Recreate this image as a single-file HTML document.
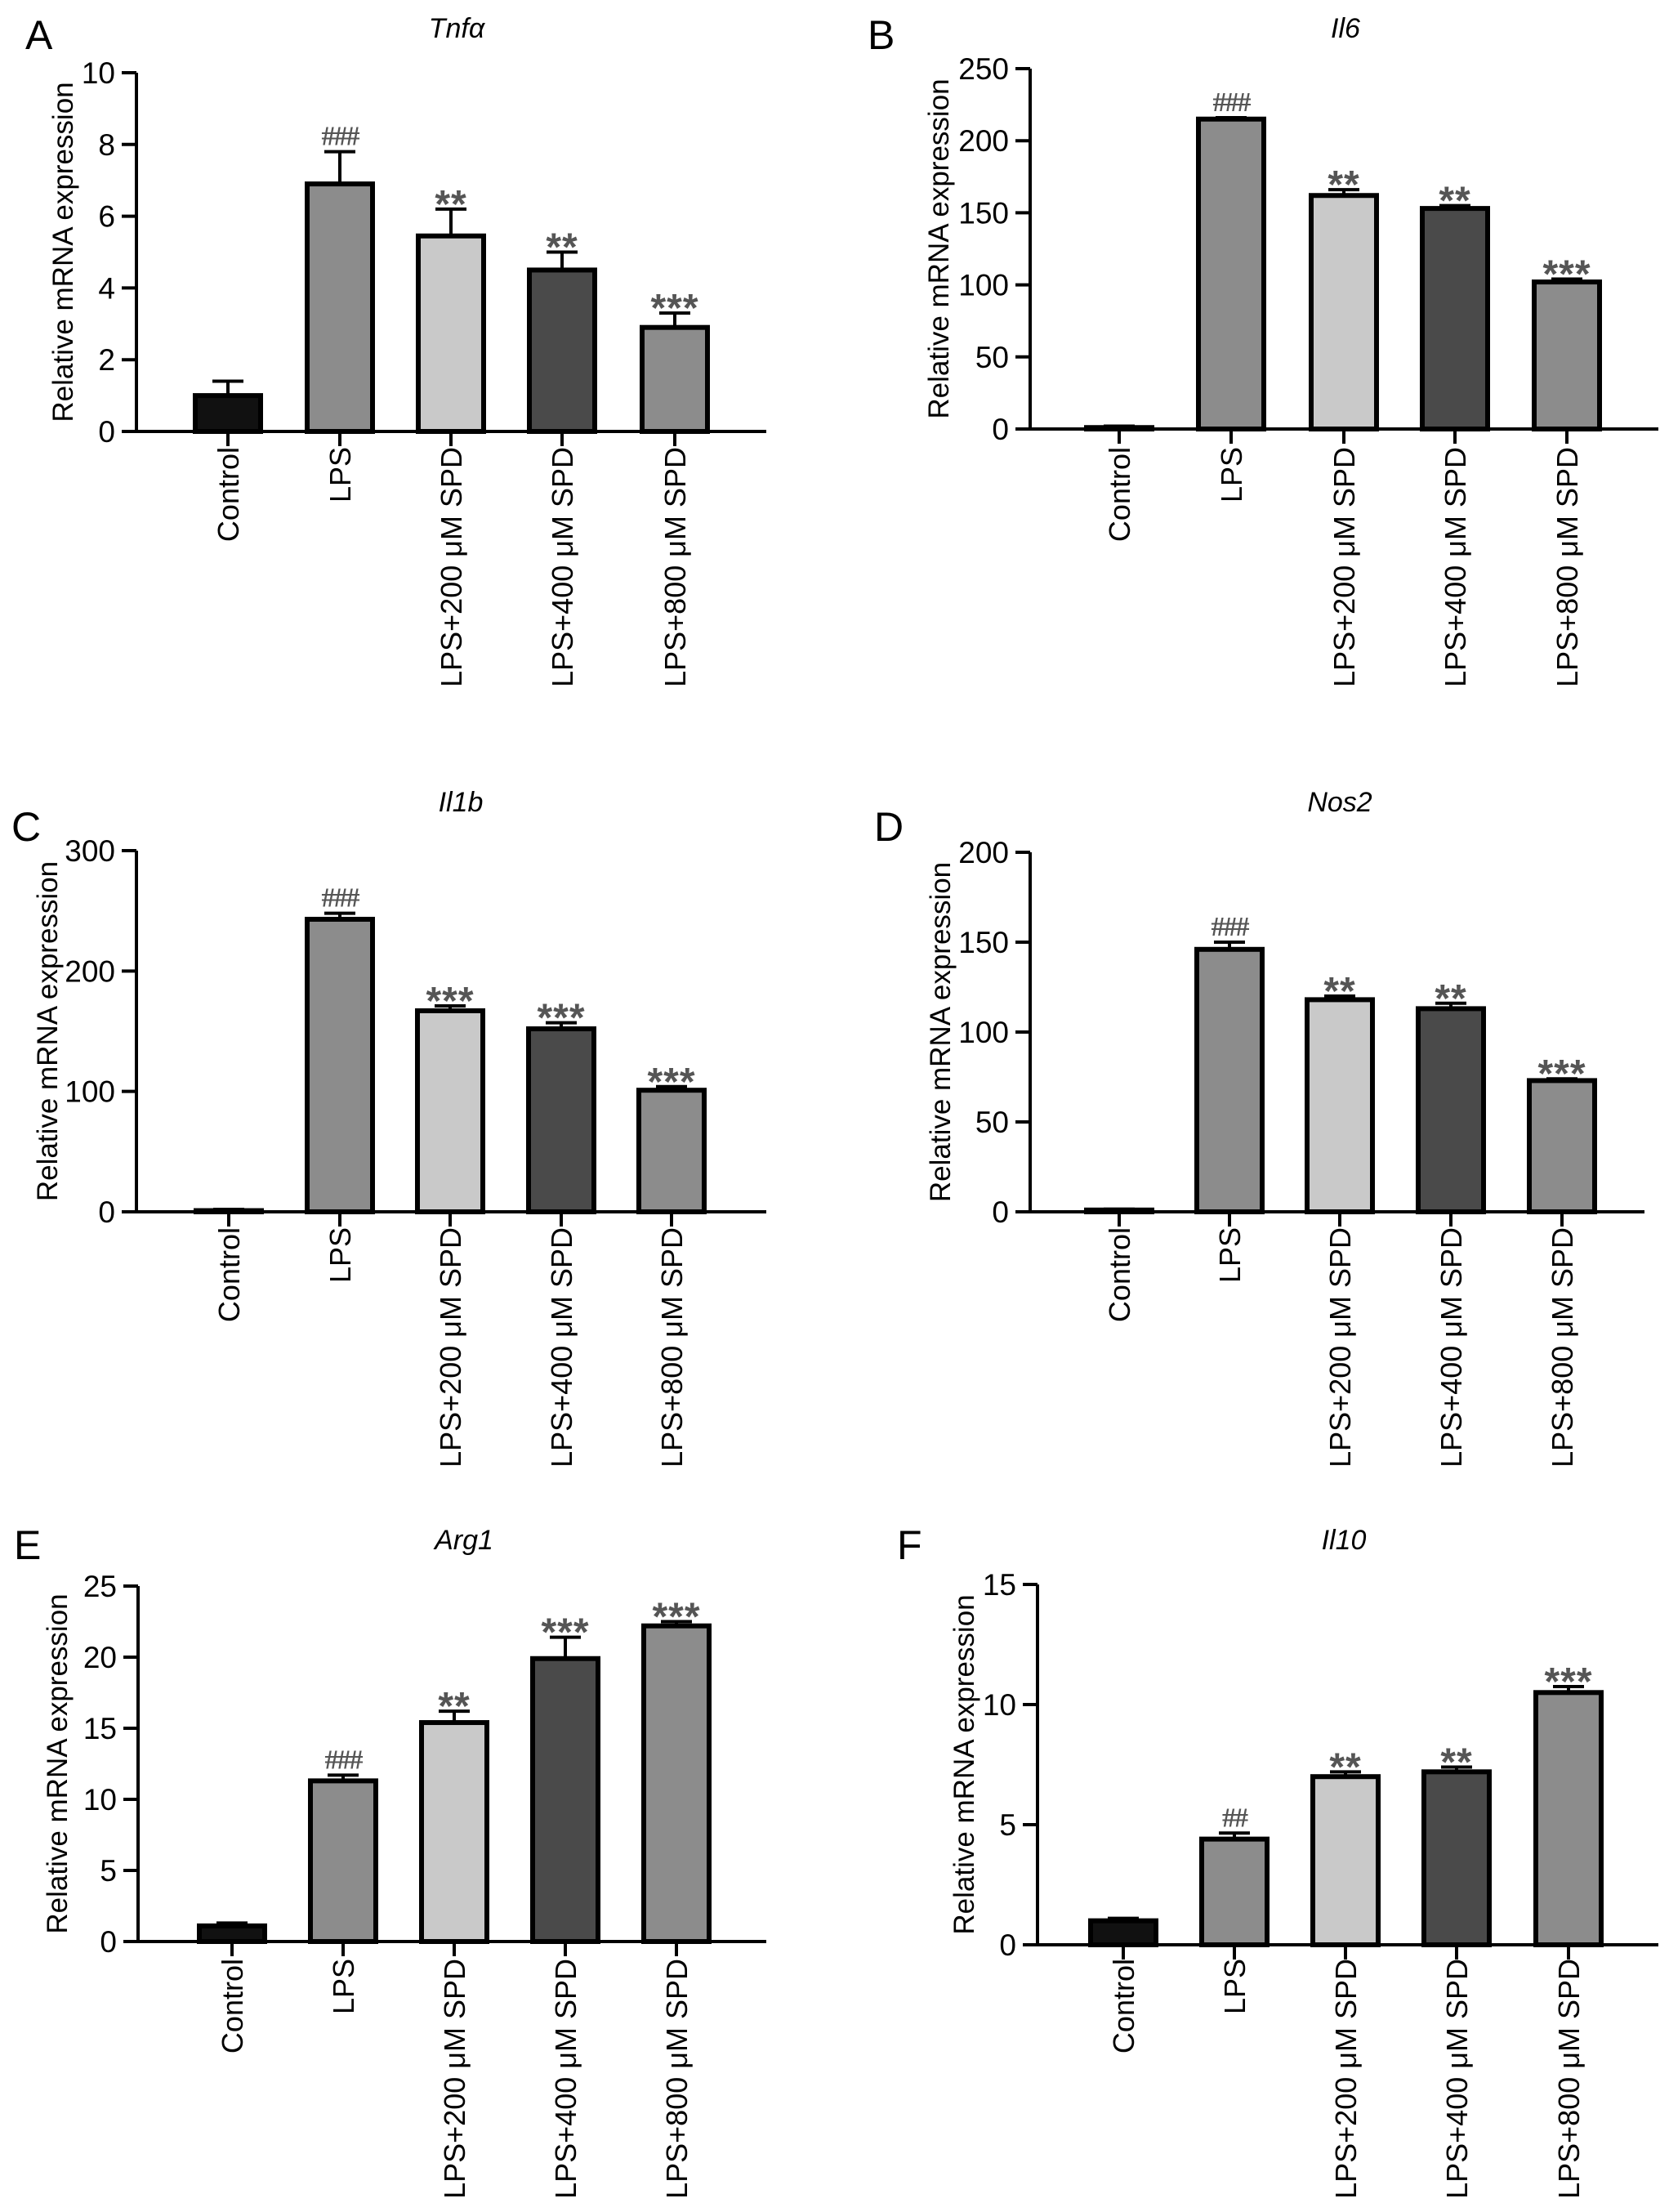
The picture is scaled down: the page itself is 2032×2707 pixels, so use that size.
<!DOCTYPE html>
<html><head><meta charset="utf-8"><style>
html,body{margin:0;padding:0;background:#fff;}
svg{display:block;font-family:"Liberation Sans",Arial,sans-serif;}
</style></head><body>
<svg id="fig" width="2032" height="2707" viewBox="0 0 2032 2707" xmlns="http://www.w3.org/2000/svg"></svg>
<script>
const categories = ["Control","LPS","LPS+200 \u03bcM SPD","LPS+400 \u03bcM SPD","LPS+800 \u03bcM SPD"];
const fills = ["#111111","#8c8c8c","#c9c9c9","#4a4a4a","#8c8c8c"];
const tnfValues = [1.0, 6.9, 5.45, 4.5, 2.9];
const tnfErrors = [0.4, 0.9, 0.75, 0.5, 0.4];
const tnfMarks = ["", "###", "**", "**", "***"];
const tnfTicks = [0, 2, 4, 6, 8, 10];
const il6Values = [1, 215, 162, 153, 102];
const il6Errors = [1, 1, 4, 2, 2];
const il6Marks = ["", "###", "**", "**", "***"];
const il6Ticks = [0, 50, 100, 150, 200, 250];
const il1bValues = [1, 243, 167, 152, 101];
const il1bErrors = [1, 5, 4, 5, 3];
const il1bMarks = ["", "###", "***", "***", "***"];
const il1bTicks = [0, 100, 200, 300];
const nos2Values = [1, 146, 118, 113, 73];
const nos2Errors = [0.5, 4, 2, 3, 1];
const nos2Marks = ["", "###", "**", "**", "***"];
const nos2Ticks = [0, 50, 100, 150, 200];
const arg1Values = [1.1, 11.3, 15.4, 19.9, 22.2];
const arg1Errors = [0.2, 0.4, 0.8, 1.5, 0.3];
const arg1Marks = ["", "###", "**", "***", "***"];
const arg1Ticks = [0, 5, 10, 15, 20, 25];
const il10Values = [1.0, 4.4, 7.0, 7.2, 10.5];
const il10Errors = [0.1, 0.25, 0.2, 0.2, 0.25];
const il10Marks = ["", "##", "**", "**", "***"];
const il10Ticks = [0, 5, 10, 15];

const NS = "http://www.w3.org/2000/svg";
const svg = document.getElementById("fig");
function mk(tag, attrs, parent, text){
  const e = document.createElementNS(NS, tag);
  for (const k in attrs) e.setAttribute(k, attrs[k]);
  if (text !== undefined) e.textContent = text;
  parent.appendChild(e);
  return e;
}

const panels = [
  {id:"a", letter:"A", lx:31, ly:60, title:"Tnf\u03b1", tx:559, ty:46, yTitleX:89,
   axX:167, y0:528, yTop:89, xEnd:938, centers:[279,416,552,688,826], catTop:547,
   values:tnfValues, errors:tnfErrors, marks:tnfMarks, ticks:tnfTicks},
  {id:"b", letter:"B", lx:1062, ly:60, title:"Il6", tx:1647, ty:46, yTitleX:1161,
   axX:1261, y0:525, yTop:84, xEnd:2030, centers:[1370,1507,1645,1781,1918], catTop:547,
   values:il6Values, errors:il6Errors, marks:il6Marks, ticks:il6Ticks},
  {id:"c", letter:"C", lx:14, ly:1029, title:"Il1b", tx:564, ty:993, yTitleX:70,
   axX:167, y0:1483, yTop:1041, xEnd:938, centers:[280,416,551,687,822], catTop:1502,
   values:il1bValues, errors:il1bErrors, marks:il1bMarks, ticks:il1bTicks},
  {id:"d", letter:"D", lx:1070, ly:1029, title:"Nos2", tx:1640, ty:993, yTitleX:1163,
   axX:1261, y0:1483, yTop:1043, xEnd:2013, centers:[1370,1505,1640,1776,1912], catTop:1502,
   values:nos2Values, errors:nos2Errors, marks:nos2Marks, ticks:nos2Ticks},
  {id:"e", letter:"E", lx:17, ly:1908, title:"Arg1", tx:568, ty:1896, yTitleX:82,
   axX:169, y0:2376, yTop:1941, xEnd:938, centers:[284,420,556,692,828], catTop:2397,
   values:arg1Values, errors:arg1Errors, marks:arg1Marks, ticks:arg1Ticks},
  {id:"f", letter:"F", lx:1098, ly:1908, title:"Il10", tx:1645, ty:1896, yTitleX:1192,
   axX:1270, y0:2380, yTop:1939, xEnd:2030, centers:[1375,1511,1647,1783,1920], catTop:2397,
   values:il10Values, errors:il10Errors, marks:il10Marks, ticks:il10Ticks}
];

panels.forEach(p => {
  const g = mk("g", {}, svg);
  
  
  const maxV = p.ticks[p.ticks.length - 1];
  const yScale = v => p.y0 - (v / maxV) * (p.y0 - p.yTop);

  const letter = mk("text", {x:p.lx, y:p.ly, "font-size":50, fill:"#000"}, g, p.letter);
  
  

  const title = mk("text", {x:p.tx, y:p.ty, "font-size":34, "font-style":"italic", "text-anchor":"middle", fill:"#000"}, g, p.title);
  
  

  const yMid = (p.y0 + p.yTop) / 2;
  const yt = mk("text", {x:p.yTitleX, y:yMid, "font-size":35, "text-anchor":"middle", fill:"#000",
    transform:`rotate(-90 ${p.yTitleX} ${yMid})`}, g, "Relative mRNA expression");
  
  

  p.values.forEach((v, i) => {
    const cx = p.centers[i], w = 86, top = yScale(v);
    const rect = mk("rect", {x:cx - w/2 + 3, y:top, width:w - 6, height:Math.max(p.y0 - top, 0.5),
      fill:fills[i], stroke:"#000", "stroke-width":6}, g);
    
    
    const et = yScale(v + p.errors[i]);
    const err = mk("path", {d:`M${cx} ${top} V${et} M${cx-19} ${et} H${cx+19}`, stroke:"#000", "stroke-width":4, fill:"none"}, g);
    
    
    if (p.marks[i]) {
      const isHash = p.marks[i][0] === "#";
      const m = mk("text", {x:cx, y:et - (isHash ? 8 : -10), "font-size":isHash ? 34 : 48, "text-anchor":"middle",
        fill:"#555", "font-family":isHash ? "Liberation Serif, serif" : "Liberation Sans, sans-serif",
        "font-weight":"bold", "letter-spacing":isHash ? -2 : 1}, g, p.marks[i]);
      
      
    }
    const tk = mk("line", {x1:cx, y1:p.y0, x2:cx, y2:p.y0 + 18, stroke:"#000", "stroke-width":4}, g);
    
    
    const lx = cx + 13;
    const cl = mk("text", {x:lx, y:p.catTop, "font-size":36, "text-anchor":"end", fill:"#000",
      transform:`rotate(-90 ${lx} ${p.catTop})`}, g, categories[i]);
    
    
  });

  const ax = mk("path", {d:`M${p.axX} ${p.yTop} V${p.y0} M${p.axX - 18} ${p.y0} H${p.xEnd}`, stroke:"#000", "stroke-width":4, fill:"none"}, g);
  
  
  p.ticks.forEach(t => {
    const y = yScale(t);
    const tl = mk("line", {x1:p.axX - 18, y1:y, x2:p.axX, y2:y, stroke:"#000", "stroke-width":4}, g);
    
    
    const tt = mk("text", {x:p.axX - 26, y:y + 13, "font-size":37, "text-anchor":"end", fill:"#000"}, g, String(t));
    
    
  });
});
</script>
</body></html>
